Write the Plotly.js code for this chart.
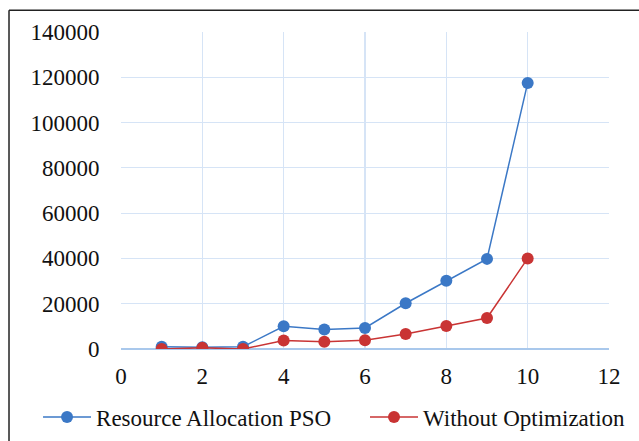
<!DOCTYPE html>
<html>
<head>
<meta charset="utf-8">
<script src="https://cdn.plot.ly/plotly-3.0.1.min.js"></script>
</head>
<body style="margin:0;padding:0;background:#fff">
<div id="chart" style="width:639px;height:441px"></div>
<script>
var xValues = [1, 2, 3, 4, 5, 6, 7, 8, 9, 10];
var psoValues = [1000, 800, 1000, 10000, 8600, 9300, 20200, 30100, 39800, 117500];
var noOptValues = [0, 500, 0, 3800, 3200, 3900, 6600, 10200, 13700, 40000];
var seriesNames = ["Resource Allocation PSO", "Without Optimization"];

function mkFont() { return {family: "Times New Roman", size: 23, color: "#111111"}; }

var traces = [
  {x: xValues, y: psoValues, name: seriesNames[0], type: "scatter", mode: "lines+markers",
   line: {color: "#3b78c6", width: 1.5}, marker: {color: "#3b78c6", size: 12}, legend: "legend"},
  {x: xValues, y: noOptValues, name: seriesNames[1], type: "scatter", mode: "lines+markers",
   line: {color: "#c93434", width: 1.5}, marker: {color: "#c93434", size: 12}, legend: "legend2"}
];

var layout = {
  width: 639, height: 441,
  margin: {l: 121, r: 30, t: 32, b: 92, autoexpand: false},
  paper_bgcolor: "#fff", plot_bgcolor: "#fff",
  font: mkFont(),
  showlegend: true,
  xaxis: {range: [0, 12], dtick: 2, tick0: 0, showgrid: true, gridcolor: "#d6e4f6", gridwidth: 1.2,
          zeroline: false, showline: false, ticks: "outside", ticklen: 6, tickcolor: "rgba(0,0,0,0)",
          tickfont: mkFont(), automargin: false},
  yaxis: {range: [0, 140000], dtick: 20000, showgrid: true, gridcolor: "#d6e4f6", gridwidth: 1.2,
          zeroline: true, zerolinecolor: "#a9c8ec", zerolinewidth: 2, showline: false,
          ticks: "outside", ticklen: 16, tickcolor: "rgba(0,0,0,0)", tickformat: "d",
          tickfont: mkFont(), automargin: false},
  legend: {orientation: "h", x: -0.17, xanchor: "left", y: -0.215, yanchor: "middle",
           font: mkFont(), itemwidth: 48, bgcolor: "rgba(0,0,0,0)"},
  legend2: {orientation: "h", x: 0.50, xanchor: "left", y: -0.215, yanchor: "middle",
           font: mkFont(), itemwidth: 48, bgcolor: "rgba(0,0,0,0)"},
  shapes: [
    {type: "line", xref: "paper", yref: "paper", x0: -0.2295, x1: -0.2295, y0: 1.069, y1: -0.4,
     line: {color: "#222", width: 1.5}},
    {type: "line", xref: "paper", yref: "paper", x0: -0.2295, x1: 1.2, y0: 1.069, y1: 1.069,
     line: {color: "#222", width: 1.5}}
  ]
};

Plotly.newPlot("chart", traces, layout, {displayModeBar: false, staticPlot: true});
</script>
</body>
</html>
